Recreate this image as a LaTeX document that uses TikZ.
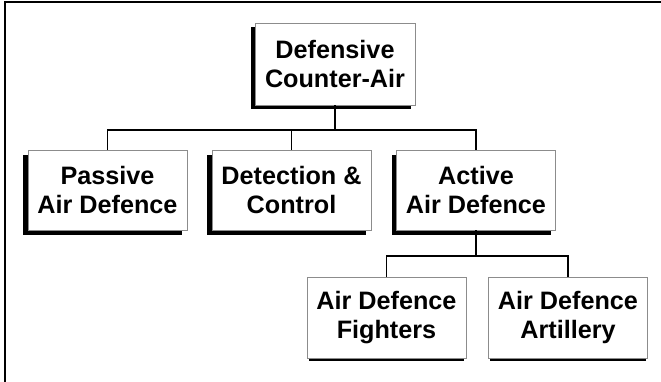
\documentclass[tikz,border=0pt]{standalone}
\usepackage{fontspec}
\setmainfont{Liberation Sans}
\usetikzlibrary{shadows}
\begin{document}
\begin{tikzpicture}[x=1pt,y=-1pt,
  boxbase/.style={draw=black!45, line width=0.9pt, fill=white, align=center,
    font=\fontsize{25.2}{29.5}\selectfont\bfseries, inner sep=0pt,
    minimum width=159pt, minimum height=80pt},
  topbox/.style={boxbase, minimum width=160pt, minimum height=82pt,
    general shadow={fill=black, shadow xshift=-4pt, shadow yshift=-4pt}},
  midbox/.style={boxbase,
    general shadow={fill=black, shadow xshift=-5pt, shadow yshift=-5pt}},
  lowbox/.style={boxbase, minimum height=81pt,
    general shadow={fill=black, shadow xshift=0pt, shadow yshift=-4.5pt, shadow scale=0.975}},
  link/.style={draw=black, line width=1.3pt}]
\useasboundingbox (0,0) rectangle (661,382);
\draw[line width=2.6pt] (5,382) -- (5,2) -- (661,2);

\node[topbox] (top) at (335,64) {Defensive\\Counter-Air};
\node[midbox] (passive) at (107.5,190) {Passive\\Air Defence};
\node[midbox] (detect) at (291.5,190) {Detection \&\\Control};
\node[midbox] (active) at (476,190) {Active\\Air Defence};
\node[lowbox] (fighters) at (386.5,317.5) {Air Defence\\Fighters};
\node[lowbox] (artillery) at (568,317.5) {Air Defence\\Artillery};

\coordinate (j1) at (335,130);
\coordinate (j2) at (476,256);
\draw[link] (top.south) -- (j1);
\draw[link] (passive.north) |- (j1);
\draw[link] (detect.north) |- (j1);
\draw[link] (active.north) |- (j1);
\draw[link] (active.south) -- (j2);
\draw[link] (fighters.north) |- (j2);
\draw[link] (artillery.north) |- (j2);
\end{tikzpicture}
\end{document}
